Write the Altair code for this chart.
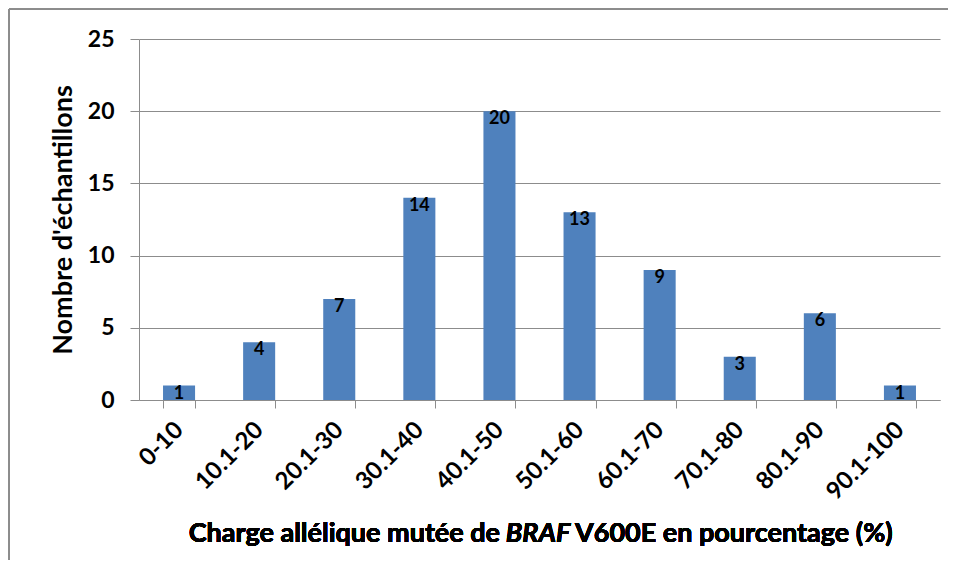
import altair as alt
import pandas as pd

categories = ["0-10", "10.1-20", "20.1-30", "30.1-40", "40.1-50",
              "50.1-60", "60.1-70", "70.1-80", "80.1-90", "90.1-100"]
counts = [1, 4, 7, 14, 20, 13, 9, 3, 6, 1]
y_ticks = [0, 5, 10, 15, 20, 25]

title_left = "Charge allélique mutée de"
title_italic = "BRAF"
title_right = "V600E en pourcentage (%)"
y_title = "Nombre d'échantillons"

df = pd.DataFrame({"cat": categories, "n": counts})

FONT = "Lato"
W, H = 801, 361
GRAY = "#8c8c8c"

x_enc = alt.X("cat:N", sort=categories,
              scale=alt.Scale(paddingInner=0.6, paddingOuter=0.3),
              axis=alt.Axis(title=None, labelAngle=-45, labelAlign="right",
                            labelBaseline="middle", labelFont=FONT,
                            labelFontSize=24, labelFontWeight="bold",
                            labelColor="black", labelPadding=18,
                            tickBand="extent", tickSize=8, tickColor=GRAY,
                            domainColor=GRAY, grid=False))
y_enc = alt.Y("n:Q", scale=alt.Scale(domain=[0, 25], nice=False),
              axis=alt.Axis(title=y_title, values=y_ticks, labelFont=FONT,
                            labelFontSize=23, labelFontWeight="bold",
                            labelColor="black", labelPadding=16,
                            tickSize=9, tickColor=GRAY, domainColor=GRAY,
                            gridColor=GRAY, titleFont=FONT, titleFontSize=27,
                            titleFontWeight="bold", titleColor="black",
                            titlePadding=10))

bars = alt.Chart(df).mark_bar(color="#4F81BD").encode(x=x_enc, y=y_enc)
labels = alt.Chart(df).mark_text(font=FONT, fontSize=18, fontWeight="bold",
                                 color="black", baseline="middle", dy=8
                                 ).encode(x=alt.X("cat:N", sort=categories),
                                          y="n:Q", text="n:Q")

frame_top = alt.Chart(df).mark_rule(color=GRAY, strokeWidth=1).encode(
    x=alt.value(-130), x2=alt.value(830), y=alt.value(-30))
frame_left = alt.Chart(df).mark_rule(color=GRAY, strokeWidth=1).encode(
    x=alt.value(-130), y=alt.value(-30), y2=alt.value(600))

tsize = 27
t1 = alt.Chart(df).mark_text(text=title_left, font=FONT, fontSize=tsize,
                             fontWeight="bold", align="right", baseline="alphabetic",
                             color="black").encode(x=alt.value(361), y=alt.value(503))
t2 = alt.Chart(df).mark_text(text=title_italic, font=FONT, fontSize=tsize,
                             fontWeight="bold", fontStyle="italic", align="center",
                             baseline="alphabetic", color="black"
                             ).encode(x=alt.value(399), y=alt.value(503))
t3 = alt.Chart(df).mark_text(text=title_right, font=FONT, fontSize=tsize,
                             fontWeight="bold", align="left", baseline="alphabetic",
                             color="black").encode(x=alt.value(436), y=alt.value(503))

chart = alt.layer(frame_top, frame_left, bars, labels, t1, t2, t3).properties(
    width=W, height=H,
    autosize=alt.AutoSizeParams(type="none"),
    padding={"left": 131, "top": 31, "right": 8, "bottom": 160},
).configure_view(stroke=None)

chart.save("out.html", embed_options={"renderer": "svg", "actions": False})
